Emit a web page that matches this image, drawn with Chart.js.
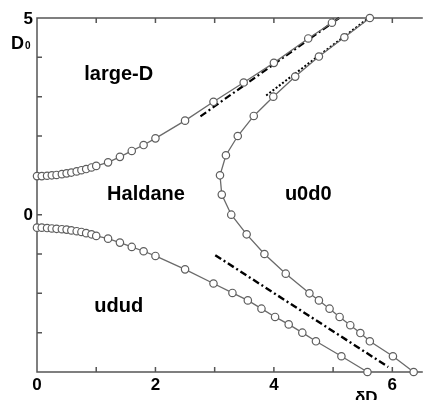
<!DOCTYPE html>
<html>
<head>
<meta charset="utf-8">
<script src="https://cdn.jsdelivr.net/npm/chart.js@4"></script>
<style>
  body { margin: 0; background: #fff; }
  #phase { display: block; }
</style>
</head>
<body>
<canvas id="phase" width="423" height="400"></canvas>
<script>
// phase boundaries (deltaD, D0)
const upperX = [0, 0.08, 0.17, 0.25, 0.33, 0.42, 0.5, 0.58, 0.67, 0.75, 0.83, 0.92, 1.0, 1.2, 1.4, 1.6, 1.8, 2.0, 2.5, 2.98, 3.49, 4.0, 4.58, 4.98, 5.1];
const upperY = [0.98, 0.98, 0.99, 1.0, 1.01, 1.03, 1.05, 1.07, 1.1, 1.13, 1.16, 1.2, 1.24, 1.33, 1.47, 1.62, 1.77, 1.94, 2.39, 2.87, 3.36, 3.86, 4.48, 4.88, 5.0];

const lowerX = [0, 0.08, 0.17, 0.25, 0.33, 0.42, 0.5, 0.58, 0.67, 0.75, 0.83, 0.92, 1.0, 1.2, 1.4, 1.6, 1.8, 2.0, 2.5, 2.98, 3.3, 3.56, 3.79, 4.02, 4.25, 4.48, 4.71, 5.14, 5.58];
const lowerY = [-0.33, -0.33, -0.34, -0.35, -0.36, -0.37, -0.38, -0.4, -0.42, -0.44, -0.47, -0.5, -0.54, -0.61, -0.71, -0.82, -0.93, -1.05, -1.39, -1.75, -1.99, -2.18, -2.39, -2.6, -2.79, -3.0, -3.22, -3.6, -4.0];

const u0d0X = [5.62, 5.19, 4.76, 4.36, 3.99, 3.66, 3.39, 3.19, 3.09, 3.12, 3.28, 3.54, 3.84, 4.2, 4.6, 4.76, 4.94, 5.11, 5.29, 5.46, 5.62, 6.01, 6.36];
const u0d0Y = [5.0, 4.51, 4.02, 3.51, 3.0, 2.51, 2.0, 1.51, 1.0, 0.51, 0.0, -0.5, -1.0, -1.5, -2.0, -2.18, -2.39, -2.6, -2.81, -3.01, -3.22, -3.6, -4.0];

// asymptotic lines
const dashUpperX = [2.76, 5.1];
const dashUpperY = [2.5, 5.0];
const dashLowerX = [3.01, 5.93];
const dashLowerY = [-1.03, -3.87];
const dotX = [3.87, 5.6];
const dotY = [3.03, 5.0];

const xTicks = [0, 1, 2, 3, 4, 5, 6];
const xTickLabels = ['0', '', '2', '', '4', '', '6'];
const yTicks = [-4, -3, -2, -1, 0, 1, 2, 3, 4, 5];
const yTickLabels = ['', '', '', '', '0', '', '', '', '', '5'];

const regionNames = ['large-D', 'Haldane', 'u0d0', 'udud'];
const regionX = [1.38, 1.84, 4.58, 1.38];
const regionY = [3.57, 0.52, 0.52, -2.33];

const pts = (xs, ys) => xs.map((x, i) => ({ x: x, y: ys[i] }));

const axisColor = '#555';
const boldFont = 'bold 17px "Liberation Sans", Arial, sans-serif';

const circleLine = (data, hideLast) => ({
    data: data,
    showLine: true,
    borderColor: '#6a6a6a',
    borderWidth: 1.3,
    pointBackgroundColor: '#fff',
    pointBorderColor: '#5e5e5e',
    pointBorderWidth: 1.2,
    pointRadius: ctx => (hideLast && ctx.dataIndex === data.length - 1) ? 0 : 3.7,
    clip: false
});

const straight = (data, dash, width) => ({
    data: data,
    showLine: true,
    borderColor: '#000',
    borderWidth: width,
    borderDash: dash,
    pointRadius: 0,
    clip: false
});

const framePlugin = {
    id: 'frame',
    beforeDatasetsDraw(chart) {
        const { ctx, chartArea: a, scales: { x, y } } = chart;
        ctx.save();
        ctx.strokeStyle = axisColor;
        ctx.lineWidth = 1.5;
        ctx.beginPath();
        ctx.moveTo(a.right + 5, a.top);
        ctx.lineTo(a.left, a.top);
        ctx.lineTo(a.left, a.bottom);
        ctx.lineTo(a.right + 5, a.bottom);
        xTicks.forEach(v => {
            const px = x.getPixelForValue(v);
            ctx.moveTo(px, a.bottom); ctx.lineTo(px, a.bottom - 5);
            ctx.moveTo(px, a.top); ctx.lineTo(px, a.top + 5);
        });
        yTicks.forEach(v => {
            const py = y.getPixelForValue(v);
            ctx.moveTo(a.left, py); ctx.lineTo(a.left + 5, py);
        });
        ctx.stroke();
        ctx.restore();
    },
    afterDraw(chart) {
        const { ctx, chartArea: a, scales: { x, y } } = chart;
        ctx.save();
        ctx.fillStyle = '#000';
        ctx.font = boldFont;
        ctx.textBaseline = 'middle';
        ctx.textAlign = 'center';
        xTicks.forEach((v, i) => {
            if (xTickLabels[i]) ctx.fillText(xTickLabels[i], x.getPixelForValue(v), a.bottom + 13);
        });
        ctx.textAlign = 'right';
        yTicks.forEach((v, i) => {
            if (yTickLabels[i]) ctx.fillText(yTickLabels[i], a.left - 4, y.getPixelForValue(v) + 1);
        });

        // axis titles
        ctx.textAlign = 'left';
        ctx.textBaseline = 'alphabetic';
        ctx.font = 'bold 18px "Liberation Sans", Arial, sans-serif';
        ctx.fillText('D', 11, 49);
        ctx.font = 'bold 10px "Liberation Sans", Arial, sans-serif';
        ctx.fillText('0', 25, 49);
        ctx.font = boldFont;
        ctx.fillText('\u03B4D', 355, 403);

        // phase names
        ctx.font = 'bold 20px "Liberation Sans", Arial, sans-serif';
        ctx.textAlign = 'center';
        ctx.textBaseline = 'middle';
        regionNames.forEach((name, i) => {
            ctx.fillText(name, x.getPixelForValue(regionX[i]), y.getPixelForValue(regionY[i]));
        });
        ctx.restore();
    }
};

new Chart(document.getElementById('phase'), {
    type: 'scatter',
    data: {
        datasets: [
            circleLine(pts(upperX, upperY), true),
            circleLine(pts(lowerX, lowerY), false),
            circleLine(pts(u0d0X, u0d0Y), false),
            straight(pts(dashUpperX, dashUpperY), [7, 3, 2, 3], 2.2),
            straight(pts(dashLowerX, dashLowerY), [7, 3, 2, 3], 2.4),
            straight(pts(dotX, dotY), [2, 2], 2)
        ]
    },
    options: {
        responsive: false,
        animation: false,
        devicePixelRatio: 1,
        layout: { padding: { top: 18, right: 0, left: 0, bottom: 0 } },
        plugins: { legend: { display: false }, tooltip: { enabled: false } },
        scales: {
            x: {
                type: 'linear',
                min: 0,
                max: 6.43,
                ticks: { display: false },
                grid: { display: false },
                border: { display: false },
                afterFit: s => { s.height = 28; }
            },
            y: {
                type: 'linear',
                min: -4,
                max: 5,
                ticks: { display: false },
                grid: { display: false },
                border: { display: false },
                afterFit: s => { s.width = 37; }
            }
        }
    },
    plugins: [framePlugin]
});
</script>
</body>
</html>
